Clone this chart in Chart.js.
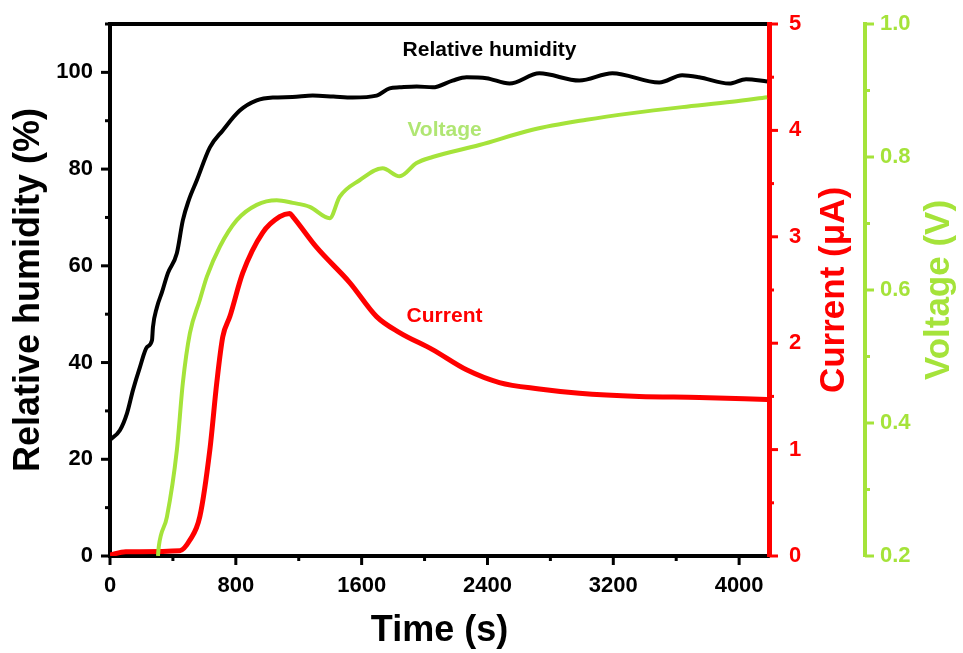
<!DOCTYPE html>
<html lang="en">
<head>
<meta charset="UTF-8">
<title>Relative humidity, current and voltage vs time</title>
<script src="https://cdn.jsdelivr.net/npm/chart.js@4.4.4/dist/chart.umd.js"></script>
<style>
  html, body { margin: 0; padding: 0; background: #fff; }
</style>
</head>
<body>
<canvas id="myChart" width="963" height="653"></canvas>
<script>
// relative humidity (%) vs time (s)
const rhTime  = [0, 63, 108, 146, 190, 235, 267, 273, 298, 330, 368, 425, 463, 500, 552, 635, 717, 825, 933, 1035, 1160, 1289, 1420, 1543, 1695, 1778, 1841, 1950, 2051, 2178, 2267, 2394, 2540, 2730, 2984, 3194, 3492, 3638, 3746, 3937, 4044, 4178];
const rhValue = [24.0, 26.0, 29.5, 34.3, 39.0, 43.2, 44.6, 47.3, 51.4, 54.5, 58.5, 62.6, 69.4, 73.5, 77.7, 84.5, 88.0, 92.1, 94.2, 94.8, 94.9, 95.2, 95.0, 94.8, 95.2, 96.7, 96.9, 97.1, 96.9, 98.3, 99.0, 98.8, 97.7, 99.8, 98.3, 99.8, 97.9, 99.4, 99.0, 97.7, 98.6, 98.1];

// current (uA) vs time (s)
const curTime  = [0, 100, 444, 508, 571, 635, 679, 717, 762, 844, 971, 1079, 1143, 1162, 1314, 1524, 1695, 1841, 2051, 2267, 2476, 2730, 2984, 3365, 3746, 4178];
const curValue = [0.01, 0.04, 0.05, 0.15, 0.37, 1.0, 1.63, 2.06, 2.25, 2.66, 3.04, 3.19, 3.22, 3.19, 2.90, 2.57, 2.25, 2.10, 1.94, 1.75, 1.63, 1.57, 1.53, 1.50, 1.49, 1.47];

// voltage (V) vs time (s)
const voltTime  = [305, 310, 362, 425, 463, 508, 571, 616, 698, 806, 933, 1060, 1162, 1270, 1397, 1460, 1587, 1733, 1841, 1949, 2051, 2349, 2686, 3029, 3321, 3638, 3956, 4178];
const voltValue = [0.20, 0.214, 0.259, 0.359, 0.460, 0.535, 0.585, 0.620, 0.665, 0.705, 0.728, 0.735, 0.731, 0.725, 0.708, 0.740, 0.765, 0.783, 0.771, 0.791, 0.800, 0.818, 0.841, 0.856, 0.866, 0.875, 0.883, 0.890];

// tick labels
const timeTicks = [0, 800, 1600, 2400, 3200, 4000];
const rhTicks   = [0, 20, 40, 60, 80, 100];
const curTicks  = [0, 1, 2, 3, 4, 5];
const voltTicks = [0.2, 0.4, 0.6, 0.8, 1.0];

// text labels inside the plot (x in s, y on the humidity axis)
const noteText  = ['Relative humidity', 'Voltage', 'Current'];
const noteX     = [2413, 2127, 2127];
const noteY     = [104.5, 88.0, 49.6];

const RED = '#ff0000';
const GREEN = '#a5e33a';
const FONT = "'Liberation Sans', Arial, sans-serif";

const toPts = (xs, ys) => xs.map((x, i) => ({ x: x, y: ys[i] }));
const setTicks = vals => s => { s.ticks = vals.map(v => ({ value: v })); };
// fixed box sizes, and no extra room for half-labels at the ends
const fixW = w => s => { s.width = w; s.paddingTop = 0; s.paddingBottom = 0; };
const fixH = h => s => { s.height = h; s.paddingLeft = 0; s.paddingRight = 0; };

// major / minor tick marks (Origin style, outward)
const tickSpecs = [
  { id: 'x', major: 800, minor: 400, color: '#000' },
  { id: 'y', major: 20, minor: 10, color: '#000' },
  { id: 'yCur', major: 1, minor: 0.5, color: RED },
  { id: 'yVolt', major: 0.2, minor: 0.1, color: GREEN }
];

// right-hand titles read bottom-to-top, like the left one
const rightTitles = [
  { id: 'yCur', text: 'Current (μA)', color: RED, offset: 31 },
  { id: 'yVolt', text: 'Voltage (V)', color: GREEN, offset: 24 }
];

const axisDeco = {
  id: 'axisDeco',
  afterDraw(chart) {
    const ctx = chart.ctx;
    const a = chart.chartArea;
    ctx.save();
    ctx.lineCap = 'butt';
    // top frame line
    ctx.strokeStyle = '#000';
    ctx.lineWidth = 4;
    ctx.beginPath();
    ctx.moveTo(a.left - 2, a.top);
    ctx.lineTo(a.right - 2, a.top);
    ctx.stroke();

    tickSpecs.forEach(t => {
      const s = chart.scales[t.id];
      ctx.strokeStyle = t.color;
      ctx.lineWidth = 3;
      const n = Math.round((s.max - s.min) / t.minor + 1e-6);
      for (let i = 0; i <= n; i++) {
        const v = s.min + i * t.minor;
        if (v > s.max + 1e-9) break;
        const r = v / t.major;
        const len = Math.abs(r - Math.round(r)) < 1e-6 ? 9 : 5;
        const p = s.getPixelForValue(v);
        ctx.beginPath();
        if (t.id === 'x') {
          ctx.moveTo(p, s.top);
          ctx.lineTo(p, s.top + len);
        } else if (s.position === 'left') {
          ctx.moveTo(s.right, p);
          ctx.lineTo(s.right - len, p);
        } else {
          ctx.moveTo(s.left, p);
          ctx.lineTo(s.left + len, p);
        }
        ctx.stroke();
      }
    });

    // right axis titles
    ctx.font = 'bold 35px ' + FONT;
    ctx.textAlign = 'center';
    ctx.textBaseline = 'middle';
    rightTitles.forEach(t => {
      const s = chart.scales[t.id];
      ctx.save();
      ctx.translate(s.right - t.offset, (s.top + s.bottom) / 2);
      ctx.rotate(-Math.PI / 2);
      ctx.fillStyle = t.color;
      ctx.fillText(t.text, 0, 0);
      ctx.restore();
    });

    // in-plot labels
    const xs = chart.scales.x, ys = chart.scales.y;
    ctx.font = 'bold 21px ' + FONT;
    const colors = ['#000', '#b0e673', RED];
    noteText.forEach((txt, i) => {
      ctx.fillStyle = colors[i];
      ctx.fillText(txt, xs.getPixelForValue(noteX[i]), ys.getPixelForValue(noteY[i]));
    });
    ctx.restore();
  }
};

const tickFont = { family: FONT, size: 22, weight: 'bold' };

const ctx = document.getElementById('myChart').getContext('2d');
const myChart = new Chart(ctx, {
  type: 'line',
  data: {
    datasets: [
      {
        label: 'Relative humidity',
        data: toPts(rhTime, rhValue),
        yAxisID: 'y',
        borderColor: '#000',
        borderWidth: 4,
        pointRadius: 0,
        fill: false,
        cubicInterpolationMode: 'monotone'
      },
      {
        label: 'Voltage',
        data: toPts(voltTime, voltValue),
        yAxisID: 'yVolt',
        borderColor: GREEN,
        borderWidth: 4,
        pointRadius: 0,
        fill: false,
        cubicInterpolationMode: 'monotone'
      },
      {
        label: 'Current',
        data: toPts(curTime, curValue),
        yAxisID: 'yCur',
        borderColor: RED,
        borderWidth: 5,
        pointRadius: 0,
        fill: false,
        cubicInterpolationMode: 'monotone'
      }
    ]
  },
  options: {
    responsive: false,
    animation: false,
    layout: { padding: { top: 24, left: 0, right: 0, bottom: 0 } },
    plugins: {
      legend: { display: false },
      tooltip: { enabled: false }
    },
    scales: {
      x: {
        type: 'linear',
        position: 'bottom',
        min: 0,
        max: 4190,
        afterBuildTicks: setTicks(timeTicks),
        afterFit: fixH(97),
        border: { display: true, color: '#000', width: 4 },
        grid: { drawOnChartArea: false, drawTicks: false },
        ticks: {
          autoSkip: false,
          padding: 17,
          color: '#000',
          font: tickFont,
          maxRotation: 0,
          callback: v => String(v)
        },
        title: {
          display: true,
          text: 'Time (s)',
          color: '#000',
          font: { family: FONT, size: 36, weight: 'bold', lineHeight: 1 },
          padding: { top: 0, bottom: 4 }
        }
      },
      y: {
        type: 'linear',
        position: 'left',
        min: 0,
        max: 110,
        afterBuildTicks: setTicks(rhTicks),
        afterFit: fixW(110),
        border: { display: true, color: '#000', width: 4 },
        grid: { drawOnChartArea: false, drawTicks: false },
        ticks: {
          autoSkip: false,
          padding: 17,
          color: '#000',
          font: tickFont,
          callback: v => String(v)
        },
        title: {
          display: true,
          text: 'Relative humidity (%)',
          color: '#000',
          font: { family: FONT, size: 36, weight: 'bold', lineHeight: 1 },
          padding: { top: 11, bottom: 0 }
        }
      },
      yCur: {
        type: 'linear',
        position: 'right',
        weight: 0,
        min: 0,
        max: 5,
        afterBuildTicks: setTicks(curTicks),
        afterFit: fixW(96),
        border: { display: true, color: RED, width: 5 },
        grid: { drawOnChartArea: false, drawTicks: false },
        ticks: {
          autoSkip: false,
          padding: 20,
          color: RED,
          font: tickFont,
          callback: v => String(v)
        }
      },
      yVolt: {
        type: 'linear',
        position: 'right',
        weight: 1,
        min: 0.2,
        max: 1.0,
        afterBuildTicks: setTicks(voltTicks),
        afterFit: fixW(98),
        border: { display: true, color: GREEN, width: 4 },
        grid: { drawOnChartArea: false, drawTicks: false },
        ticks: {
          autoSkip: false,
          padding: 15,
          color: GREEN,
          font: tickFont,
          callback: v => Number(v).toFixed(1)
        }
      }
    }
  },
  plugins: [axisDeco]
});
</script>
</body>
</html>
